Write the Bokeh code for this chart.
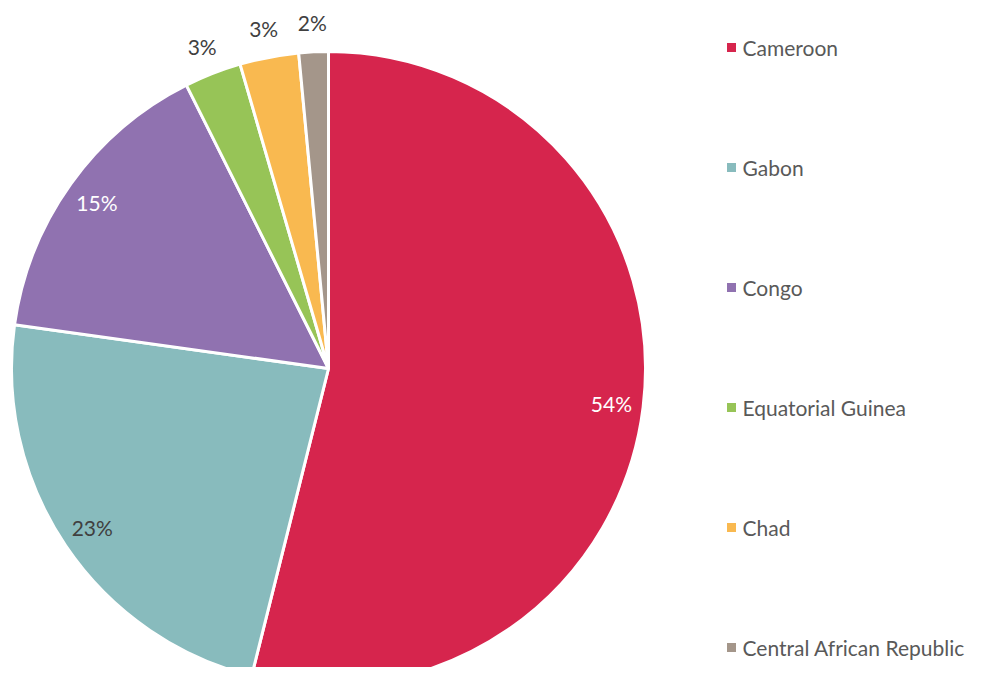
import math
from bokeh.plotting import figure
from bokeh.models import ColumnDataSource, Range1d
from bokeh.core.properties import value
from bokeh.embed import file_html
from bokeh.resources import INLINE

countries = ["Cameroon", "Gabon", "Congo", "Equatorial Guinea", "Chad", "Central African Republic"]
shares = [53.9, 23.3, 15.4, 2.9, 3.0, 1.5]
colors = ["#D6254D", "#88BBBD", "#9072B0", "#97C457", "#F9B950", "#A4968A"]
label_colors = ["white", "#404040", "white", "#404040", "#404040", "#404040"]

W, H = 968, 667
cx, cy, R = 328, H - 368, 317

total = sum(shares)
starts, ends, lx, ly, labels = [], [], [], [], []
cum = 0.0
for s in shares:
    f0 = cum / total
    f1 = (cum + s) / total
    starts.append(math.pi / 2 - f0 * 2 * math.pi)
    ends.append(math.pi / 2 - f1 * 2 * math.pi)
    mid = (f0 + f1) / 2 * 2 * math.pi
    r = 285 if s / total > 0.1 else 346
    lx.append(cx + r * math.sin(mid))
    ly.append(cy + r * math.cos(mid))
    labels.append(f"{round(s / total * 100)}%")
    cum += s

n = len(countries)
src = ColumnDataSource(dict(start=starts, end=ends, color=colors, lx=lx, ly=ly,
                            label=labels, lcol=label_colors, name=countries,
                            gx=[731] * n, gy=[H - 47 - 120 * i for i in range(n)],
                            tx=[742] * n))

p = figure(width=W, height=H, output_backend="svg", toolbar_location=None,
           x_range=Range1d(0, W), y_range=Range1d(0, H), min_border=0)
p.axis.visible = False
p.grid.visible = False
p.outline_line_color = None
p.background_fill_color = "white"

p.wedge(x=cx, y=cy, radius=R, start_angle="start", end_angle="end", direction="clock",
        fill_color="color", line_color="white", line_width=3, source=src)
p.text(x="lx", y="ly", text="label", text_color="lcol", text_align="center",
       text_baseline="middle", text_font=value("Lato"), text_font_size="21px", source=src)

p.scatter(x="gx", y="gy", marker="square", size=9, fill_color="color", line_color=None, source=src)
p.text(x="tx", y="gy", text="name", text_color="#595959", text_align="left",
       text_baseline="middle", text_font=value("Lato"), text_font_size="21px", source=src)

open("out.html", "w").write(file_html(p, INLINE))
